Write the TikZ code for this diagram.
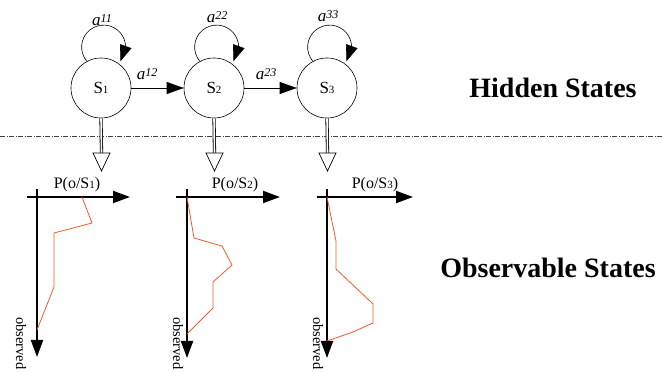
\documentclass[tikz,border=0pt]{standalone}
\usepackage{fontspec}
\setmainfont{Liberation Serif}
\usetikzlibrary{arrows.meta,bending}
\definecolor{curvered}{HTML}{F05A28}
\newcommand{\stl}[1]{S{\fontsize{11}{11}\selectfont #1}}
\newcommand{\tra}[1]{\textit{a{\fontsize{12}{12}\selectfont\raisebox{2.5pt}{#1}}}}
\newcommand{\pos}[1]{P(o/S{\fontsize{11}{11}\selectfont #1})}
\tikzset{
 state/.style={circle, draw, line width=0.6pt, minimum size=60pt, inner sep=0pt, font=\fontsize{17}{17}\selectfont},
 trans/.style={line width=0.6pt, -{Triangle[length=17pt,width=12pt]}},
 loopline/.style={line width=0.6pt, -{Triangle[length=16pt,width=12pt]}},
 lbl/.style={font=\fontsize{17}{17}\selectfont, inner sep=0pt},
 emit/.style={double, double distance=1.6pt, line width=0.8pt},
 emithead/.style={line width=0.7pt, fill=white, line join=miter},
 axisline/.style={line width=2pt, -{Triangle[length=17pt,width=12pt]}},
 dist/.style={curvered, line width=0.8pt, line join=miter},
 title/.style={font=\fontsize{28}{28}\selectfont\bfseries, inner sep=0pt},
 axlbl/.style={font=\fontsize{16}{16}\selectfont, inner sep=0pt},
 obslbl/.style={font=\fontsize{14.5}{14.5}\selectfont, inner sep=0pt, rotate=-90, anchor=west},
 sepline/.style={line width=0.6pt, black!75, dash pattern=on 5pt off 1.5pt on 1pt off 1.5pt},
}
\begin{document}
\begin{tikzpicture}[x=1pt,y=1pt]
\useasboundingbox (0,0) rectangle (662,372);
% hidden states
\node[state] (s1) at (101,284) {\stl{1}};
\node[state] (s2) at (214,284) {\stl{2}};
\node[state] (s3) at (327,284) {\stl{3}};
\draw[trans] (s1) -- (s2);
\draw[trans] (s2) -- (s3);
\node[lbl] (a12) at (147,298) {\tra{12}};
\node[lbl] (a23) at (266,298) {\tra{23}};
\draw[loopline] (s1.118) arc[start angle=220, end angle=-40, radius=22];
\draw[loopline] (s2.118) arc[start angle=220, end angle=-40, radius=22];
\draw[loopline] (s3.118) arc[start angle=220, end angle=-40, radius=22];
\node[lbl] (a11) at (102,352) {\tra{11}};
\node[lbl] (a22) at (217,355) {\tra{22}};
\node[lbl] (a33) at (328,356) {\tra{33}};
\node[title] (hs) at (553,284) {Hidden States};
\node[title] (os) at (548,104) {Observable States};
% separator
\coordinate (sepL) at (0,236);
\coordinate (sepR) at (662,236);
\draw[sepline] (sepL) -- (sepR);
% emission arrows
\foreach \s/\x in {s1/101.5,s2/214.5,s3/327.5}{
  \draw[emit] (\s.south) -- (\x,219);
  \draw[emithead] (\x-8.5,219) -- (\x+8.5,219) -- (\x,201) -- cycle;
}
% chart 1
\draw[axisline] (27,175) -- (130,175);
\draw[axisline] (37,183) -- (37,15);
\node[axlbl] (p1) at (77,187) {\pos{1}};
\node[obslbl] (ob1) at (21,55) {observed};
\draw[dist] (82,175) -- (92,149) -- (54,139) -- (54,85) -- (37,42);
% chart 2
\draw[axisline] (176,175) -- (280,175);
\draw[axisline] (187,183) -- (187,14);
\node[axlbl] (p2) at (235,187) {\pos{2}};
\node[obslbl] (ob2) at (178,55) {observed};
\draw[dist] (187,175) -- (194,134) -- (222,126) -- (232,107) -- (213,90) -- (213,64) -- (187,38);
% chart 3
\draw[axisline] (317,175) -- (413,175);
\draw[axisline] (327,183) -- (327,14);
\node[axlbl] (p3) at (375,187) {\pos{3}};
\node[obslbl] (ob3) at (318,55) {observed};
\draw[dist] (327,175) -- (336,131) -- (336,103) -- (373,68) -- (373,49) -- (353,40) -- (327,31);
\end{tikzpicture}
\end{document}
